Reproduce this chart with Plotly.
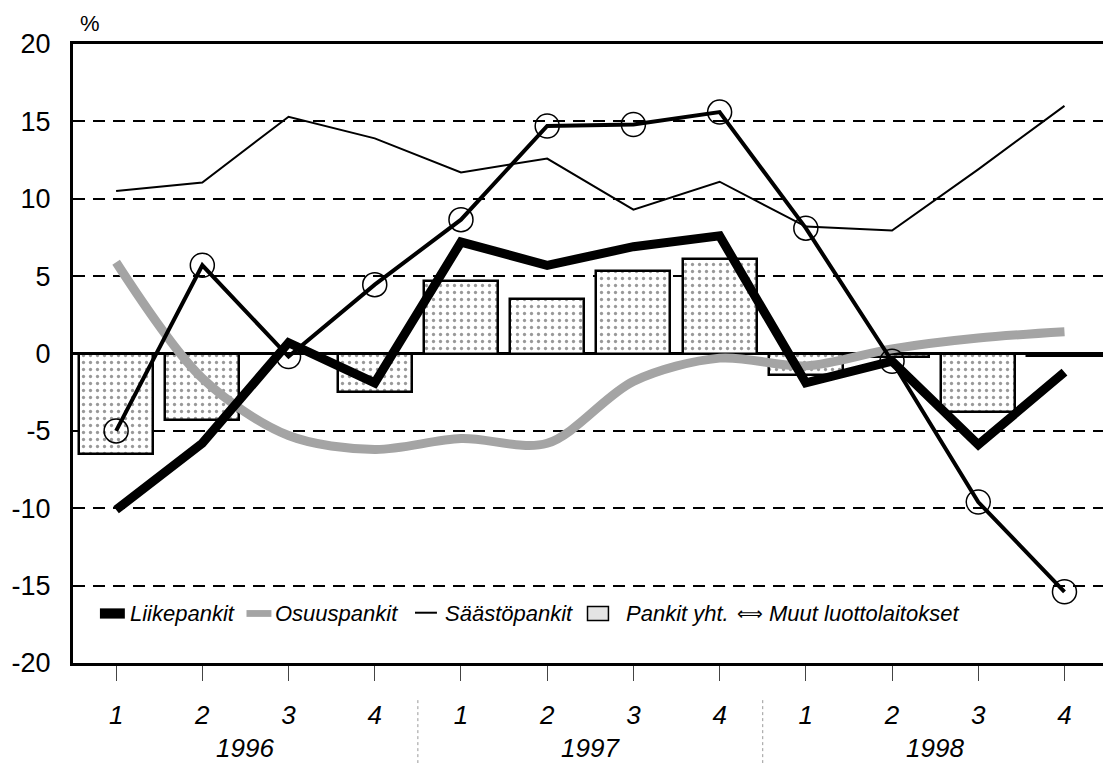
import plotly.graph_objects as go

# ---- data ----
quarters = ["1", "2", "3", "4", "1", "2", "3", "4", "1", "2", "3", "4"]
years = ["1996", "1997", "1998"]
liikepankit = [-10.1, -5.8, 0.7, -1.9, 7.2, 5.7, 6.9, 7.6, -1.9, -0.5, -5.9, -1.2]
osuuspankit = [5.9, -1.6, -5.3, -6.2, -5.5, -5.8, -1.8, -0.3, -0.8, 0.3, 1.0, 1.4]
saastopankit = [10.5, 11.05, 15.3, 13.9, 11.7, 12.6, 9.3, 11.1, 8.2, 7.95, 11.9, 16.0]
pankit_yht = [-6.5, -4.3, 0.0, -2.5, 4.7, 3.5, 5.3, 6.1, -1.4, -0.2, -3.8, -0.15]
muut = [-5.0, 5.7, -0.2, 4.45, 8.65, 14.7, 14.8, 15.6, 8.1, -0.5, -9.6, -15.4]
series_names = ["Liikepankit", "Osuuspankit", "Säästöpankit", "Pankit yht.", "Muut luottolaitokset"]
y_ticks = [20, 15, 10, 5, 0, -5, -10, -15, -20]

x = list(range(len(quarters)))
FONT = "Liberation Sans, Arial, sans-serif"
GRAY = "#a4a4a4"

# plot area in screenshot pixels (page has an 8px body margin)
PL, PR = 73, 1108
PW = PR - PL


def px(xpix):
    return (xpix - PL) / PW


fig = go.Figure()

fig.add_trace(go.Bar(
    x=x, y=pankit_yht, width=0.86, name=series_names[3],
    marker=dict(color="white", line=dict(color="black", width=2.5),
                pattern=dict(shape=".", fgcolor="#333", bgcolor="white", size=7, solidity=0.17)),
    showlegend=False))

fig.add_trace(go.Scatter(
    x=x, y=osuuspankit, mode="lines", name=series_names[1],
    line=dict(color=GRAY, width=9, shape="spline", smoothing=0.9), showlegend=False))

fig.add_trace(go.Scatter(
    x=x, y=saastopankit, mode="lines", name=series_names[2],
    line=dict(color="black", width=2), showlegend=False))

fig.add_trace(go.Scatter(
    x=x, y=liikepankit, mode="lines", name=series_names[0],
    line=dict(color="black", width=9), showlegend=False))

fig.add_trace(go.Scatter(
    x=x, y=muut, mode="lines+markers", name=series_names[4],
    line=dict(color="black", width=4),
    marker=dict(symbol="circle-open", size=24, color="black", line=dict(width=1.5)),
    showlegend=False))

# ---- manual legend (inside plot, around y = -17) ----
ly = -16.8
shapes = []
annotations = []


def legend_text(i, xpix):
    annotations.append(dict(text="<i>" + series_names[i] + "</i>", xref="paper", yref="y",
                            x=px(xpix), y=ly, xanchor="left", yanchor="middle", showarrow=False))


shapes.append(dict(type="rect", xref="paper", yref="y", x0=px(100), x1=px(125),
                   y0=ly - 0.33, y1=ly + 0.33, fillcolor="black", line=dict(width=0)))
legend_text(0, 128)
shapes.append(dict(type="rect", xref="paper", yref="y", x0=px(247), x1=px(272),
                   y0=ly - 0.22, y1=ly + 0.22, fillcolor=GRAY, line=dict(width=0)))
legend_text(1, 274)
shapes.append(dict(type="line", xref="paper", yref="y", x0=px(416), x1=px(438),
                   y0=ly + 0.05, y1=ly + 0.05, line=dict(color="black", width=2)))
legend_text(2, 444)
shapes.append(dict(type="rect", xref="paper", yref="y", x0=px(589), x1=px(610),
                   y0=ly - 0.45, y1=ly + 0.45, fillcolor="#e4e4e4", line=dict(color="black", width=1.5)))
legend_text(3, 626)
annotations.append(dict(text="⟺", xref="paper", yref="y",
                        x=px(737), y=ly, xanchor="left", yanchor="middle", showarrow=False,
                        font=dict(size=18, family="DejaVu Sans", color="black")))
legend_text(4, 769)

# ---- year labels and separators below axis ----
for i, yr in enumerate(years):
    annotations.append(dict(text="<i>" + yr + "</i>", xref="x", yref="paper",
                            x=4 * i + 1.5, y=-0.137, xanchor="center", yanchor="middle",
                            showarrow=False, font=dict(size=26)))
for sx in [-0.52, 3.5, 7.5]:
    shapes.append(dict(type="line", xref="x", yref="paper", x0=sx, x1=sx, y0=-0.06, y1=-0.17,
                       line=dict(color="#999", width=1, dash="dot")))

annotations.append(dict(text="%", xref="paper", yref="paper", x=px(90), y=1.0,
                        xanchor="center", yanchor="bottom", yshift=6, showarrow=False,
                        font=dict(size=22)))

fig.update_layout(
    width=1103, height=755,
    margin=dict(l=PL - 8, r=1111 - PR, t=44 - 8, b=100),
    paper_bgcolor="white", plot_bgcolor="white",
    font=dict(family=FONT, size=22, color="black"),
    shapes=shapes, annotations=annotations,
    bargap=0, showlegend=False,
)
fig.update_xaxes(
    range=[-0.5, 11.47], tickvals=x, ticktext=["<i>" + q + "</i>" for q in quarters],
    tickfont=dict(size=26), ticks="outside", ticklen=15, tickwidth=1, tickcolor="#444",
    ticklabelstandoff=12,
    showgrid=False, zeroline=False,
    showline=True, linecolor="black", linewidth=3, mirror=True,
)
fig.update_yaxes(
    range=[-20, 20], tickvals=y_ticks, ticktext=[str(v) for v in y_ticks],
    tickfont=dict(size=27), ticks="", ticklabelstandoff=14,
    showgrid=True, gridcolor="black", gridwidth=1.5, griddash="12px,8px",
    zeroline=True, zerolinecolor="black", zerolinewidth=2.5,
    showline=True, linecolor="black", linewidth=3, mirror=True,
)

fig.write_html("out.html")
